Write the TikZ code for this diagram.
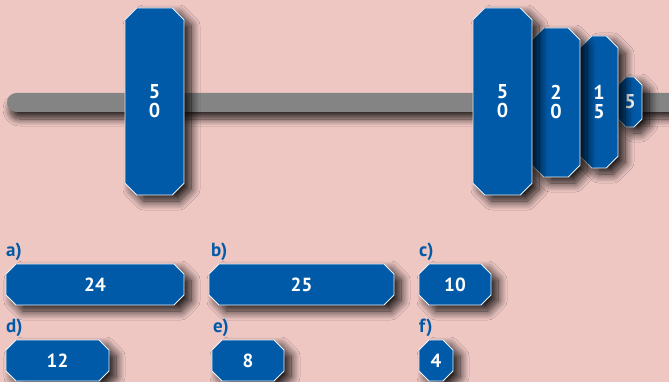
\documentclass[tikz,border=0pt]{standalone}
\usepackage{fontspec}
\setmainfont{PT Sans}
\usetikzlibrary{shapes.misc,shadows.blur}
\definecolor{bg}{RGB}{238,199,195}
\definecolor{wblue}{RGB}{0,90,168}
\definecolor{bargray}{RGB}{132,132,132}
\tikzset{
  shad/.style={blur shadow={shadow xshift=7pt, shadow yshift=-6pt, shadow blur radius=9pt, shadow blur steps=14, shadow opacity=90}},
  weight/.style={chamfered rectangle, chamfered rectangle xsep=6pt, chamfered rectangle ysep=6pt,
    draw=white!92!wblue, line width=0.9pt, fill=wblue, text=white, inner sep=0pt,
    font=\bfseries\fontsize{20}{19}\selectfont, align=center, shad},
  answer/.style={chamfered rectangle, chamfered rectangle xsep=5pt, chamfered rectangle ysep=5pt,
    draw=white!92!wblue, line width=0.9pt, fill=wblue, text=white, inner sep=0pt,
    minimum height=41pt, font=\bfseries\fontsize{19}{20}\selectfont, shad},
  lbl/.style={anchor=south west, inner sep=0pt, text=wblue, font=\bfseries\fontsize{19}{20}\selectfont},
}
\begin{document}
\begin{tikzpicture}[x=1pt,y=1pt]
\fill[bg] (0,0) rectangle (669,-382);
\useasboundingbox (0,0) rectangle (669,-382);
% bar
\fill[bargray, rounded corners=9.5pt, blur shadow={shadow xshift=3pt, shadow yshift=-7pt, shadow blur radius=7pt, shadow blur steps=12, shadow opacity=80}] (7,-93) rectangle (690,-112);
% weights (right stack drawn small to large so shadows fall on the next)
\node[weight, chamfered rectangle xsep=4pt, chamfered rectangle ysep=4pt, minimum width=24pt, minimum height=50pt] (w5) at (630,-102) {5};
\node[weight, minimum width=38pt, minimum height=132pt] (w15) at (599,-102) {1\\5};
\node[weight, minimum width=48pt, minimum height=149pt] (w20) at (556,-102.5) {2\\0};
\node[weight, minimum width=59pt, minimum height=187pt] (w50r) at (502.5,-101.5) {5\\0};
\node[weight, minimum width=59pt, minimum height=187pt] (w50l) at (154.5,-101.5) {5\\0};
% answers
\node[answer, minimum width=178pt] (a) at (95,-284.5) {24};
\node[answer, minimum width=185pt] (b) at (301.5,-284.5) {25};
\node[answer, minimum width=72pt] (c) at (455,-284.5) {10};
\node[answer, minimum width=103pt] (d) at (57.5,-360.5) {12};
\node[answer, minimum width=72pt] (e) at (248,-360.5) {8};
\node[answer, minimum width=34pt] (f) at (436,-360.5) {4};
% labels
\node[lbl] (la) at (6,-261) {a)};
\node[lbl] (lb) at (211,-261) {b)};
\node[lbl] (lc) at (419,-261) {c)};
\node[lbl] (ld) at (6,-337) {d)};
\node[lbl] (le) at (213,-337) {e)};
\node[lbl] (lf) at (419,-337) {f)};
\end{tikzpicture}
\end{document}
